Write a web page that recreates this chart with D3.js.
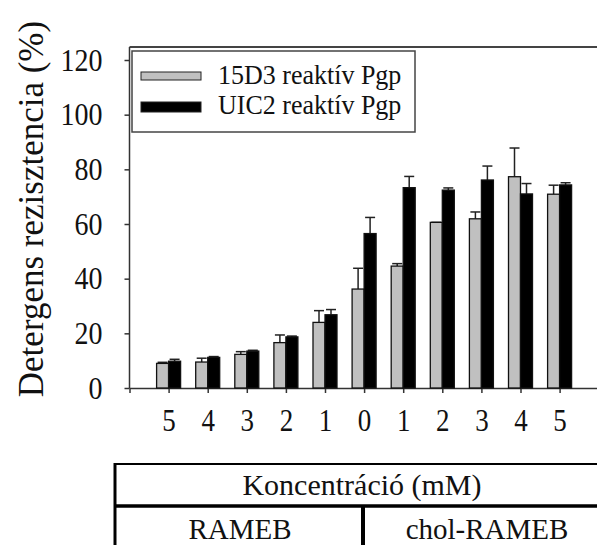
<!DOCTYPE html>
<html>
<head>
<meta charset="utf-8">
<script src="https://cdn.jsdelivr.net/npm/d3@7"></script>
<style>
  html, body { margin: 0; padding: 0; background: #fff; }
  svg { display: block; }
  svg text { font-family: "Liberation Serif", "Times New Roman", serif; fill: #111; }
</style>
</head>
<body>
<svg id="chart" width="597" height="545"></svg>
<script>
// Concentration steps (mM): RAMEB descending, then chol-RAMEB ascending
const categories = ["5", "4", "3", "2", "1", "0", "1", "2", "3", "4", "5"];
const seriesNames = ["15D3 reaktív Pgp", "UIC2 reaktív Pgp"];
// Detergent resistance (%) and SD, 15D3-reactive Pgp
const values15D3 = [9.0, 9.5, 12.3, 16.6, 24.0, 36.2, 44.6, 60.6, 61.9, 77.3, 70.9];
const errors15D3 = [0.4, 1.4, 1.0, 2.8, 4.3, 7.6, 0.9, 0.0, 2.5, 10.5, 3.3];
// Detergent resistance (%) and SD, UIC2-reactive Pgp
const valuesUIC2 = [9.8, 11.2, 13.5, 18.7, 26.8, 56.5, 73.3, 72.4, 76.1, 71.0, 74.3];
const errorsUIC2 = [0.7, 0.3, 0.3, 0.3, 1.9, 5.9, 4.1, 0.8, 5.1, 3.8, 0.8];
const yTicks = [0, 20, 40, 60, 80, 100, 120];
const axisTitle = "Detergens rezisztencia (%)";
const tableTitle = "Koncentráció (mM)";
const groupNames = ["RAMEB", "chol-RAMEB"];

const SERIF = '"Liberation Serif", "Times New Roman", serif';
const svg = d3.select("#chart");
const x0 = 129.5, step = 39.1;
const x = d3.scaleLinear().domain([0, 12]).range([x0, x0 + 12 * step]);
const y = d3.scaleLinear().domain([0, 120]).range([388, 60]);
const barW = 12;
const axisColor = "#333";
const tall = 1.15; // vertical stretch of the axis lettering

// plot frame top edge
svg.append("line").attr("x1", x(0)).attr("x2", 597).attr("y1", 47).attr("y2", 47)
  .attr("stroke", "#444").attr("stroke-width", 2);

// y axis
const yAxis = svg.append("g").attr("transform", `translate(${x(0)},0)`)
  .call(d3.axisLeft(y).tickValues(yTicks).tickSize(5).tickSizeOuter(0).tickPadding(6));
yAxis.attr("font-family", SERIF);
yAxis.select(".domain").attr("stroke", axisColor).attr("stroke-width", 1.5)
  .attr("d", `M0,${y(0)}V47`);
yAxis.selectAll(".tick line").attr("stroke", axisColor).attr("stroke-width", 1.5);
yAxis.selectAll(".tick text").attr("font-size", 28).attr("font-family", SERIF)
  .attr("fill", "#111").attr("x", -27).attr("dy", "0.32em")
  .attr("transform", `scale(1,${tall})`);

// x axis: ticks at each group centre, labels for concentrations
const xAxis = svg.append("g").attr("transform", `translate(0,${y(0)})`)
  .call(d3.axisBottom(x).tickValues(d3.range(0, 13)).tickSize(5).tickSizeOuter(0)
    .tickFormat(i => (i >= 1 && i <= categories.length) ? categories[i - 1] : ""));
xAxis.attr("font-family", SERIF);
xAxis.select(".domain").attr("stroke", axisColor).attr("stroke-width", 1.5);
xAxis.selectAll(".tick line").attr("stroke", axisColor).attr("stroke-width", 1.5);
xAxis.selectAll(".tick text").attr("font-size", 27).attr("font-family", SERIF)
  .attr("fill", "#111").attr("y", 43 / tall).attr("dy", 0)
  .attr("transform", `scale(1,${tall})`);

// bars and error whiskers
const series = [
  { vals: values15D3, errs: errors15D3, fill: "#c0c0c0", off: -barW },
  { vals: valuesUIC2, errs: errorsUIC2, fill: "#000", off: 0 }
];
series.forEach(s => {
  const g = svg.append("g");
  const data = s.vals.map((v, i) => ({ i: i + 1, v, e: s.errs[i] }));
  g.selectAll("line.err").data(data).enter().append("line")
    .attr("x1", d => x(d.i) + s.off + barW / 2).attr("x2", d => x(d.i) + s.off + barW / 2)
    .attr("y1", d => y(d.v)).attr("y2", d => y(d.v + d.e))
    .attr("stroke", "#222").attr("stroke-width", 1.5);
  g.selectAll("line.cap").data(data).enter().append("line")
    .attr("x1", d => x(d.i) + s.off + barW / 2 - 5).attr("x2", d => x(d.i) + s.off + barW / 2 + 5)
    .attr("y1", d => y(d.v + d.e)).attr("y2", d => y(d.v + d.e))
    .attr("stroke", "#222").attr("stroke-width", 1.5);
  g.selectAll("rect").data(data).enter().append("rect")
    .attr("x", d => x(d.i) + s.off).attr("width", barW)
    .attr("y", d => y(d.v)).attr("height", d => y(0) - y(d.v))
    .attr("fill", s.fill).attr("stroke", "#111").attr("stroke-width", 1.3);
});

// legend
const leg = svg.append("g");
leg.append("rect").attr("x", 132).attr("y", 51).attr("width", 283).attr("height", 81)
  .attr("fill", "#fff").attr("stroke", "#444").attr("stroke-width", 1.5);
const swatches = [{ fill: "#c0c0c0", y: 72, h: 8 }, { fill: "#000", y: 102, h: 10 }];
seriesNames.forEach((name, i) => {
  leg.append("rect").attr("x", 141).attr("y", swatches[i].y).attr("width", 60).attr("height", swatches[i].h)
    .attr("fill", swatches[i].fill).attr("stroke", "#222").attr("stroke-width", 1);
  leg.append("text").attr("transform", `translate(218,${84 + i * 30}) scale(1,1.08)`)
    .attr("font-size", 26).attr("font-family", SERIF).text(name);
});

// y axis title
svg.append("text")
  .attr("transform", "translate(43,209) rotate(-90)")
  .attr("text-anchor", "middle").attr("font-size", 35).attr("font-family", SERIF).text(axisTitle);

// concentration table below the axis
const tbl = svg.append("g").attr("font-family", SERIF);
tbl.append("line").attr("x1", 114).attr("x2", 597).attr("y1", 464).attr("y2", 464)
  .attr("stroke", "#000").attr("stroke-width", 2);
tbl.append("line").attr("x1", 114).attr("x2", 597).attr("y1", 506).attr("y2", 506)
  .attr("stroke", "#000").attr("stroke-width", 3.5);
tbl.append("line").attr("x1", 115).attr("x2", 115).attr("y1", 463).attr("y2", 545)
  .attr("stroke", "#000").attr("stroke-width", 3);
tbl.append("line").attr("x1", 363).attr("x2", 363).attr("y1", 506).attr("y2", 545)
  .attr("stroke", "#000").attr("stroke-width", 4);
tbl.append("text").attr("x", 362).attr("y", 495).attr("text-anchor", "middle")
  .attr("font-size", 30).text(tableTitle);
tbl.append("text").attr("x", 240).attr("y", 539).attr("text-anchor", "middle")
  .attr("font-size", 29).text(groupNames[0]);
tbl.append("text").attr("x", 487).attr("y", 539).attr("text-anchor", "middle")
  .attr("font-size", 29).text(groupNames[1]);
</script>
</body>
</html>
